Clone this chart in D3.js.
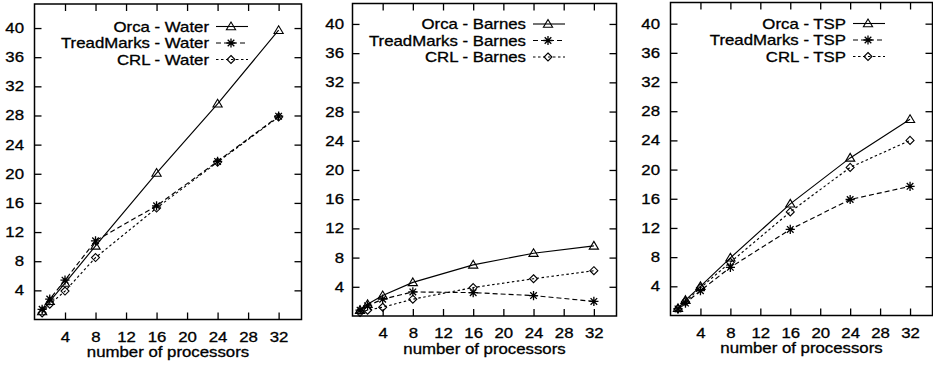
<!DOCTYPE html>
<html><head><meta charset="utf-8">
<script src="https://cdn.jsdelivr.net/npm/d3@7"></script>
<style>
html,body{margin:0;padding:0;background:#fff;}
svg{display:block;}
text{font-family:"Liberation Sans",Arial,Helvetica,sans-serif;font-size:14px;fill:#000;stroke:#000;stroke-width:0.3px;}
</style></head>
<body>
<svg id="chart" width="933" height="365"></svg>
<script>
// ---------- data ----------
const procs = [1, 2, 4, 8, 16, 24, 32];
const xTicks = [4, 8, 12, 16, 20, 24, 28, 32];
const yTicks = [4, 8, 12, 16, 20, 24, 28, 32, 36, 40];
const xTitle = "number of processors";
const systems = ["Orca", "TreadMarks", "CRL"];
const apps = ["Water", "Barnes", "TSP"];

const waterOrca = [1.1, 2.5, 5.0, 10.1, 20.1, 29.6, 39.7];
const waterTM   = [1.4, 2.8, 5.4, 10.8, 15.6, 21.7, 27.9];
const waterCRL  = [0.9, 2.1, 3.9, 8.5, 15.3, 21.6, 27.8];

const barnesOrca = [0.8, 1.6, 2.8, 4.6, 7.0, 8.6, 9.6];
const barnesTM   = [0.8, 1.4, 2.3, 3.3, 3.2, 2.8, 2.0];
const barnesCRL  = [0.5, 0.8, 1.2, 2.3, 3.9, 5.1, 6.2];

const tspOrca = [1.0, 2.1, 4.0, 7.9, 15.3, 21.6, 26.9];
const tspTM   = [0.9, 1.7, 3.4, 6.6, 11.8, 15.9, 17.7];
const tspCRL  = [0.9, 1.9, 3.8, 7.3, 14.2, 20.3, 24.0];

const seriesByApp = [
  [waterOrca, waterTM, waterCRL],
  [barnesOrca, barnesTM, barnesCRL],
  [tspOrca, tspTM, tspCRL]
];

// ---------- layout ----------
const SX = 1.2; // horizontal text stretch
const panels = [
  {l:34.5, r:301.5, t:4,   b:319.5, ymax:43.3, legE:209, legY:26.5, labGap:10.5, titleY:357},
  {l:352.5,r:616.5, t:3.5, b:316,   ymax:42.8, legE:526, legY:24,   labGap:8.5,  titleY:353.5},
  {l:670.5,r:932.5, t:2.5, b:315.5, ymax:42.9, legE:846, legY:23.5, labGap:10.5, titleY:352.5}
];
const dashes = [null, "5,3", "2.5,2.5"];

const svg = d3.select("#chart");

function marker(g, kind, x, y) {
  if (kind === 0) {
    g.append("path").attr("d", `M${x},${y-4.5} L${x+4.6},${y+3.2} L${x-4.6},${y+3.2} Z`)
      .attr("fill", "none").attr("stroke", "#000").attr("stroke-width", 1.1);
  } else if (kind === 1) {
    const r = 4.6, k = 3.3;
    g.append("path").attr("d",
      `M${x-r},${y} H${x+r} M${x},${y-r} V${y+r} M${x-k},${y-k} L${x+k},${y+k} M${x-k},${y+k} L${x+k},${y-k}`)
      .attr("stroke", "#000").attr("stroke-width", 1.3);
  } else {
    g.append("path").attr("d", `M${x},${y-4} L${x+4},${y} L${x},${y+4} L${x-4},${y} Z`)
      .attr("fill", "none").attr("stroke", "#000").attr("stroke-width", 1.1);
  }
}

function stretchText(g, x, y, str, anchor) {
  g.append("text").attr("transform", `translate(${x},${y}) scale(${SX},1)`)
    .attr("text-anchor", anchor).text(str);
}

panels.forEach((p, i) => {
  const g = svg.append("g");
  const x = d3.scaleLinear().domain([0, 35]).range([p.l, p.r]);
  const y = d3.scaleLinear().domain([0, p.ymax]).range([p.b, p.t]);

  // axes with inward ticks
  const ax = [
    g.append("g").attr("transform", `translate(0,${p.b})`)
      .call(d3.axisBottom(x).tickValues(xTicks).tickSizeInner(-7).tickSizeOuter(0).tickPadding(12.5)),
    g.append("g").attr("transform", `translate(0,${p.t})`)
      .call(d3.axisTop(x).tickValues(xTicks).tickSizeInner(-7).tickSizeOuter(0).tickFormat("")),
    g.append("g").attr("transform", `translate(${p.l},0)`)
      .call(d3.axisLeft(y).tickValues(yTicks).tickSizeInner(-7).tickSizeOuter(0).tickPadding(p.labGap / SX)),
    g.append("g").attr("transform", `translate(${p.r},0)`)
      .call(d3.axisRight(y).tickValues(yTicks).tickSizeInner(-7).tickSizeOuter(0).tickFormat(""))
  ];
  ax.forEach(a => {
    a.select(".domain").remove();
    a.selectAll("line").attr("stroke", "#000").attr("stroke-width", 1.3);
    a.selectAll("text").attr("font-size", 14)
      .attr("font-family", '"Liberation Sans",Arial,sans-serif').attr("fill", "#000")
      .attr("transform", `scale(${SX},1)`);
  });

  // frame
  g.append("rect").attr("x", p.l).attr("y", p.t).attr("width", p.r - p.l).attr("height", p.b - p.t)
    .attr("fill", "none").attr("stroke", "#000").attr("stroke-width", 1.5);

  // series
  const line = d3.line().x((d, j) => x(procs[j])).y(d => y(d));
  seriesByApp[i].forEach((vals, s) => {
    const path = g.append("path").datum(vals).attr("d", line)
      .attr("fill", "none").attr("stroke", "#000").attr("stroke-width", 1.15);
    if (dashes[s]) path.attr("stroke-dasharray", dashes[s]);
    vals.forEach((v, j) => marker(g, s, x(procs[j]), y(v)));
  });

  // legend
  systems.forEach((name, s) => {
    const ly = p.legY + s * 16.5;
    stretchText(g, p.legE, ly + 5, `${name} - ${apps[i]}`, "end");
    const ln = g.append("line").attr("x1", p.legE + 7).attr("x2", p.legE + 39)
      .attr("y1", ly).attr("y2", ly).attr("stroke", "#000").attr("stroke-width", 1.1);
    if (dashes[s]) ln.attr("stroke-dasharray", dashes[s]);
    marker(g, s, p.legE + 22, ly);
  });

  // x title
  stretchText(g, (p.l + p.r) / 2, p.titleY, xTitle, "middle");
});
</script>
</body></html>
